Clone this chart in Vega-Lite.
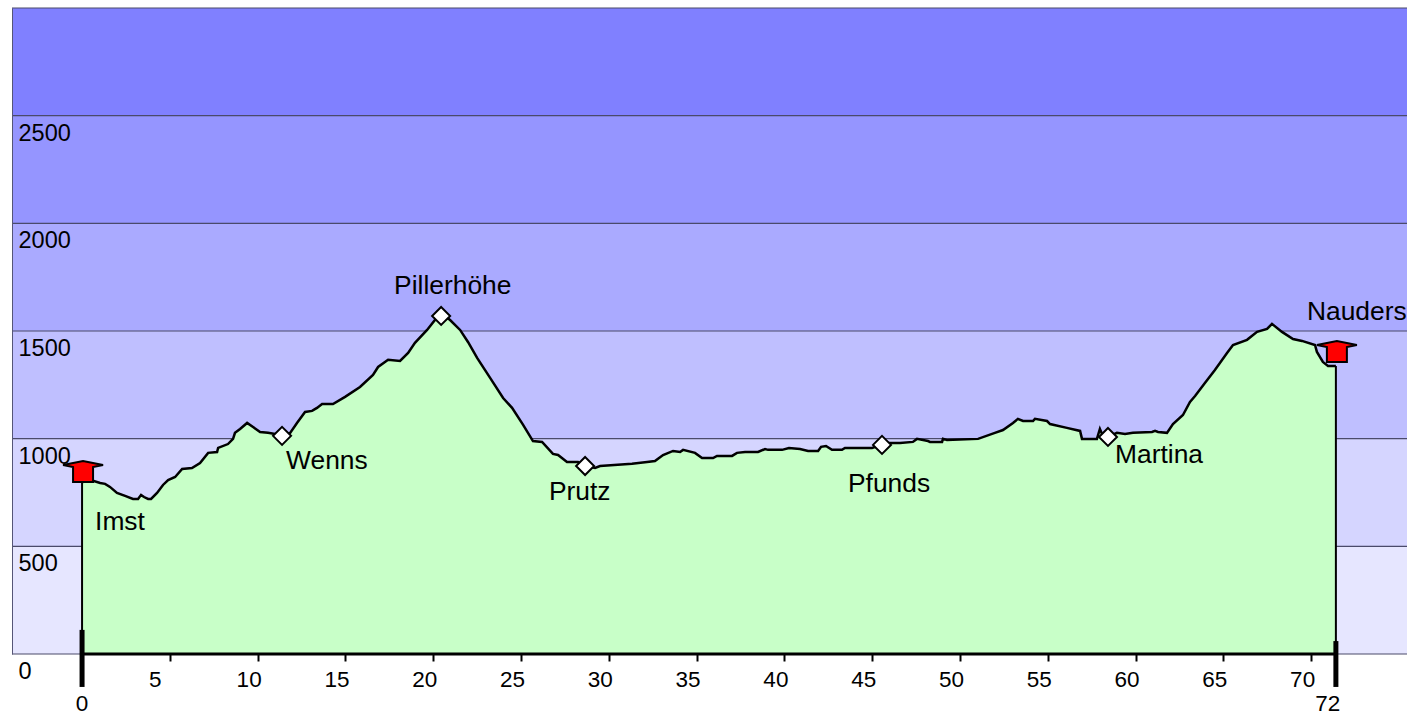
{"$schema":"https://vega.github.io/schema/vega-lite/v6.json","width":1395,"height":646,"autosize":"none","padding":{"left":12,"top":8,"right":0,"bottom":61},"background":"white","config":{"view":{"stroke":null},"font":"Liberation Sans"},
"resolve":{"axis":{"x":"independent","y":"independent"}},
"datasets":{
"bands":[{"lo":0,"hi":500,"c":"#e6e6ff"},{"lo":500,"hi":1000,"c":"#d5d5ff"},{"lo":1000,"hi":1500,"c":"#bfbfff"},{"lo":1500,"hi":2000,"c":"#aaaaff"},{"lo":2000,"hi":2500,"c":"#9595ff"},{"lo":2500,"hi":3000,"c":"#8080ff"}],
"grid":[{"e":0},{"e":500},{"e":1000},{"e":1500},{"e":2000},{"e":2500},{"e":3000}],
"profile":[{"km":0,"e":799},{"km":0.63,"e":804},{"km":1.03,"e":794},{"km":1.31,"e":790},{"km":1.59,"e":776},{"km":1.99,"e":748},{"km":2.45,"e":734},{"km":2.9,"e":720},{"km":3.19,"e":720},{"km":3.36,"e":739},{"km":3.53,"e":729},{"km":3.76,"e":720},{"km":3.93,"e":720},{"km":4.27,"e":748},{"km":4.61,"e":785},{"km":4.9,"e":808},{"km":5.3,"e":822},{"km":5.7,"e":859},{"km":6.26,"e":864},{"km":6.72,"e":887},{"km":7.18,"e":934},{"km":7.69,"e":938},{"km":7.75,"e":957},{"km":8.31,"e":975},{"km":8.6,"e":999},{"km":8.71,"e":1027},{"km":9,"e":1045},{"km":9.4,"e":1073},{"km":9.74,"e":1054},{"km":10.14,"e":1031},{"km":10.59,"e":1027},{"km":10.99,"e":1022},{"km":11.39,"e":1013},{"km":11.85,"e":1027},{"km":12.24,"e":1073},{"km":12.7,"e":1124},{"km":13.1,"e":1129},{"km":13.38,"e":1143},{"km":13.67,"e":1161},{"km":14.29,"e":1161},{"km":14.98,"e":1194},{"km":15.83,"e":1240},{"km":16.57,"e":1296},{"km":16.86,"e":1333},{"km":17.43,"e":1366},{"km":18.11,"e":1361},{"km":18.57,"e":1398},{"km":18.96,"e":1445},{"km":19.65,"e":1505},{"km":20.1,"e":1551},{"km":20.45,"e":1570},{"km":20.56,"e":1575},{"km":20.96,"e":1551},{"km":21.53,"e":1505},{"km":21.98,"e":1449},{"km":22.5,"e":1375},{"km":23.24,"e":1282},{"km":23.98,"e":1189},{"km":24.49,"e":1143},{"km":25.12,"e":1064},{"km":25.68,"e":989},{"km":26.2,"e":985},{"km":26.82,"e":929},{"km":27.11,"e":924},{"km":27.62,"e":892},{"km":28.25,"e":892},{"km":28.65,"e":873},{"km":29.22,"e":864},{"km":29.5,"e":873},{"km":31.32,"e":883},{"km":32.18,"e":892},{"km":32.63,"e":896},{"km":33.09,"e":924},{"km":33.66,"e":943},{"km":34.06,"e":938},{"km":34.23,"e":948},{"km":34.91,"e":934},{"km":35.31,"e":910},{"km":35.94,"e":910},{"km":36.16,"e":920},{"km":37.02,"e":920},{"km":37.3,"e":934},{"km":37.76,"e":938},{"km":38.5,"e":938},{"km":38.9,"e":952},{"km":39.07,"e":948},{"km":39.87,"e":948},{"km":40.26,"e":957},{"km":40.89,"e":952},{"km":41.35,"e":943},{"km":41.92,"e":943},{"km":42.09,"e":962},{"km":42.37,"e":966},{"km":42.71,"e":948},{"km":43.28,"e":948},{"km":43.45,"e":957},{"km":44.99,"e":957},{"km":45.56,"e":971},{"km":45.9,"e":980},{"km":46.59,"e":980},{"km":47.32,"e":985},{"km":47.55,"e":999},{"km":48.18,"e":989},{"km":48.29,"e":985},{"km":48.98,"e":985},{"km":49.03,"e":999},{"km":49.26,"e":994},{"km":51.03,"e":999},{"km":51.99,"e":1027},{"km":52.45,"e":1040},{"km":53.02,"e":1073},{"km":53.3,"e":1092},{"km":53.59,"e":1082},{"km":54.16,"e":1082},{"km":54.27,"e":1092},{"km":54.96,"e":1082},{"km":55.13,"e":1068},{"km":56.09,"e":1050},{"km":56.84,"e":1036},{"km":56.95,"e":999},{"km":57.8,"e":999},{"km":57.97,"e":1045},{"km":58.09,"e":1022},{"km":58.43,"e":1008},{"km":58.94,"e":1027},{"km":59.4,"e":1022},{"km":59.85,"e":1027},{"km":60.94,"e":1031},{"km":61.11,"e":1036},{"km":61.28,"e":1031},{"km":61.79,"e":1027},{"km":62.13,"e":1068},{"km":62.7,"e":1110},{"km":63.1,"e":1171},{"km":63.39,"e":1198},{"km":63.95,"e":1259},{"km":64.52,"e":1319},{"km":65.21,"e":1398},{"km":65.55,"e":1435},{"km":66.35,"e":1459},{"km":66.92,"e":1496},{"km":67.49,"e":1510},{"km":67.77,"e":1533},{"km":68.34,"e":1496},{"km":68.97,"e":1463},{"km":69.48,"e":1454},{"km":70.22,"e":1435},{"km":70.33,"e":1403},{"km":70.67,"e":1356},{"km":70.96,"e":1338},{"km":71.25,"e":1338},{"km":71.41,"e":1338}],
"ends":[{"km":0,"top":799,"base":0,"thick":112,"low":-153,"label":"0","labelKm":0,"labelE":-232,"house":799},{"km":71.41,"top":1338,"base":0,"thick":60,"low":-153,"label":"72","labelKm":70.95,"labelE":-232,"house":1356}],
"axisLine":[{"from":0,"to":71.41,"e":0}],
"places":[{"km":11.39,"e":1013},{"km":20.45,"e":1570},{"km":28.65,"e":873},{"km":45.56,"e":971},{"km":58.43,"e":1008}],
"names":[{"name":"Imst","km":0.74,"e":613},{"name":"Wenns","km":11.62,"e":896},{"name":"Pillerhöhe","km":17.77,"e":1709},{"name":"Prutz","km":26.59,"e":752},{"name":"Pfunds","km":43.62,"e":790},{"name":"Martina","km":58.83,"e":924},{"name":"Nauders","km":69.76,"e":1589}]
},
"layer":[
{"data":{"name":"bands"},"mark":{"type":"rect"},"encoding":{"y":{"field":"lo","type":"quantitative","scale":{"domain":[0,3000],"nice":false,"zero":false},"axis":null},"y2":{"field":"hi"},"color":{"field":"c","type":"nominal","scale":null,"legend":null}}},
{"data":{"name":"grid"},"mark":{"type":"rule","color":"#4a4a6a","strokeWidth":1.2},"encoding":{"y":{"field":"e","type":"quantitative","scale":{"domain":[0,3000],"nice":false,"zero":false},"axis":null}}},
{"data":{"name":"profile"},"mark":{"type":"area","color":"#c8ffc8","interpolate":"linear","opacity":1},"encoding":{
"x":{"field":"km","type":"quantitative","scale":{"domain":[-3.99,75.46],"nice":false,"zero":false},"axis":{"title":null,"values":[5,10,15,20,25,30,35,40,45,50,55,60,65,70],"format":"d","grid":false,"domain":false,"tickColor":"black","tickWidth":2,"tickSize":7,"labelFont":"Liberation Sans","labelFontSize":22.5,"labelColor":"black","labelPadding":7,"labelFlush":false,"labelOverlap":false,"labelBaseline":"top","labelOffset":{"expr":"datum.value==5?-15:-9"}}},
"y":{"field":"e","type":"quantitative","scale":{"domain":[0,3000],"nice":false,"zero":false},"axis":{"title":null,"values":[0,500,1000,1500,2000,2500],"format":"d","grid":false,"zindex":1,"ticks":false,"domain":true,"domainColor":"#555577","domainWidth":1,"labelFont":"Liberation Sans","labelFontSize":23.5,"labelColor":"black","labelAlign":"left","labelBaseline":"middle","labelPadding":-6,"labelOffset":17.5,"labelOverlap":false,"labelFlush":false}}}},
{"data":{"name":"profile"},"mark":{"type":"line","color":"black","strokeWidth":2.5,"interpolate":"linear","clip":false},"encoding":{"x":{"field":"km","type":"quantitative","scale":{"domain":[-3.99,75.46],"nice":false,"zero":false},"axis":null},"y":{"field":"e","type":"quantitative","scale":{"domain":[0,3000],"nice":false,"zero":false},"axis":null}}},
{"data":{"name":"ends"},"mark":{"type":"rule","color":"black","strokeWidth":2},"encoding":{"x":{"field":"km","type":"quantitative","scale":{"domain":[-3.99,75.46],"nice":false,"zero":false},"axis":null},"y":{"field":"top","type":"quantitative","scale":{"domain":[0,3000],"nice":false,"zero":false},"axis":null},"y2":{"field":"base"}}},
{"data":{"name":"axisLine"},"mark":{"type":"rule","color":"black","strokeWidth":3},"encoding":{"x":{"field":"from","type":"quantitative","scale":{"domain":[-3.99,75.46],"nice":false,"zero":false},"axis":null},"x2":{"field":"to"},"y":{"field":"e","type":"quantitative","scale":{"domain":[0,3000],"nice":false,"zero":false},"axis":null}}},
{"data":{"name":"ends"},"mark":{"type":"rule","color":"black","strokeWidth":5},"encoding":{"x":{"field":"km","type":"quantitative","scale":{"domain":[-3.99,75.46],"nice":false,"zero":false},"axis":null},"y":{"field":"thick","type":"quantitative","scale":{"domain":[0,3000],"nice":false,"zero":false},"axis":null},"y2":{"field":"low"}}},
{"data":{"name":"ends"},"mark":{"type":"text","font":"Liberation Sans","fontSize":22.5,"color":"black","baseline":"middle","align":"center"},"encoding":{"x":{"field":"labelKm","type":"quantitative","scale":{"domain":[-3.99,75.46],"nice":false,"zero":false},"axis":null},"y":{"field":"labelE","type":"quantitative","scale":{"domain":[0,3000],"nice":false,"zero":false},"axis":null},"text":{"field":"label"}}},
{"data":{"name":"ends"},"mark":{"type":"point","filled":true,"opacity":1,"fill":"#ff0000","stroke":"black","strokeWidth":2,"size":4,"shape":"M-9,0L-9,-15L-19,-17L1,-21L21,-17L11,-15L11,0Z"},"encoding":{"x":{"field":"km","type":"quantitative","scale":{"domain":[-3.99,75.46],"nice":false,"zero":false},"axis":null},"y":{"field":"house","type":"quantitative","scale":{"domain":[0,3000],"nice":false,"zero":false},"axis":null}}},
{"data":{"name":"places"},"mark":{"type":"point","filled":true,"opacity":1,"fill":"white","stroke":"black","strokeWidth":2,"size":4,"shape":"M0,-9L9,0L0,9L-9,0Z"},"encoding":{"x":{"field":"km","type":"quantitative","scale":{"domain":[-3.99,75.46],"nice":false,"zero":false},"axis":null},"y":{"field":"e","type":"quantitative","scale":{"domain":[0,3000],"nice":false,"zero":false},"axis":null}}},
{"data":{"name":"names"},"mark":{"type":"text","font":"Liberation Sans","fontSize":26.4,"color":"black","align":"left","baseline":"middle"},"encoding":{"x":{"field":"km","type":"quantitative","scale":{"domain":[-3.99,75.46],"nice":false,"zero":false},"axis":null},"y":{"field":"e","type":"quantitative","scale":{"domain":[0,3000],"nice":false,"zero":false},"axis":null},"text":{"field":"name"}}}
]}
